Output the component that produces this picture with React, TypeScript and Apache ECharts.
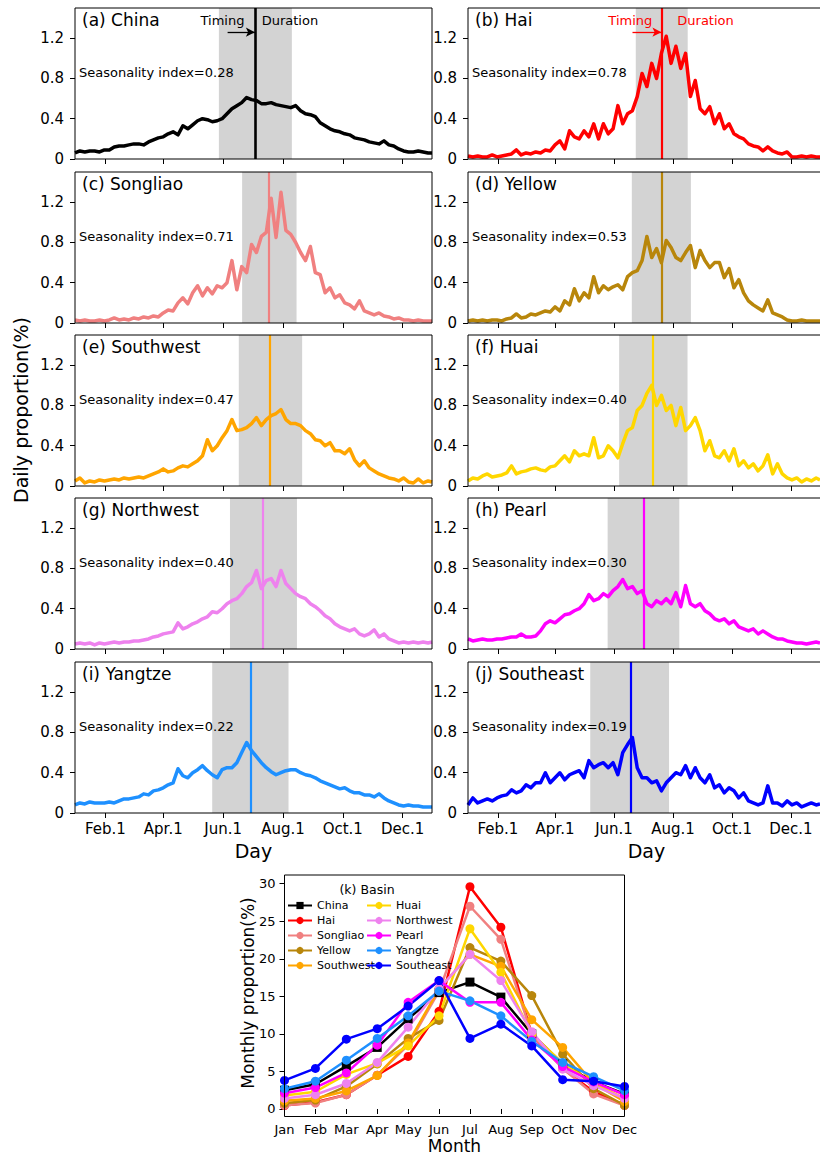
import React, { useEffect, useRef } from "react";
import * as echarts from "echarts";

const FONT = "DejaVu Sans";

const BASINS = ["China", "Hai", "Songliao", "Yellow", "Southwest", "Huai", "Northwest", "Pearl", "Yangtze", "Southeast"];
const PANEL_TAGS = ["(a)", "(b)", "(c)", "(d)", "(e)", "(f)", "(g)", "(h)", "(i)", "(j)"];
const COLORS = ["#000000", "#ff0000", "#f08080", "#b8860b", "#ffa500", "#ffd700", "#ee82ee", "#ff00ff", "#1e90ff", "#0000ff"];
const SEASONALITY = [0.28, 0.78, 0.71, 0.53, 0.47, 0.4, 0.4, 0.3, 0.22, 0.19];
const TIMING_DAY = [184.4, 201, 199, 201, 200, 192.4, 192.6, 182.7, 180.3, 168.8];
const DURATION_START = [147.7, 174.5, 171.4, 170.4, 168, 157.3, 159, 145.4, 140.9, 127.4];
const DURATION_END = [222.1, 228.2, 226.9, 231.5, 232.6, 228, 227.3, 219.5, 218.7, 208.9];
const ARROW_START = [156.6, 171.1];
const ARROW_Y = 1.26;

// daily proportion (%), sampled every 5 days from Jan 1 (last point = Dec 31)
const DAY_STEP = 5;
const DAILY_CHINA = [0.06, 0.08, 0.07, 0.08, 0.08, 0.07, 0.09, 0.09, 0.12, 0.13, 0.13, 0.14, 0.15, 0.15, 0.14, 0.17, 0.19, 0.21, 0.22, 0.25, 0.27, 0.24, 0.33, 0.3, 0.34, 0.38, 0.4, 0.39, 0.37, 0.38, 0.4, 0.45, 0.5, 0.53, 0.56, 0.61, 0.59, 0.58, 0.55, 0.55, 0.56, 0.54, 0.53, 0.52, 0.51, 0.53, 0.48, 0.45, 0.44, 0.42, 0.36, 0.33, 0.3, 0.28, 0.27, 0.25, 0.24, 0.21, 0.2, 0.19, 0.17, 0.16, 0.15, 0.18, 0.14, 0.13, 0.1, 0.08, 0.07, 0.07, 0.08, 0.07, 0.06, 0.06];
const DAILY_HAI = [0.03, 0.02, 0.03, 0.02, 0.02, 0.04, 0.02, 0.03, 0.04, 0.05, 0.09, 0.04, 0.06, 0.05, 0.07, 0.06, 0.09, 0.08, 0.14, 0.18, 0.1, 0.28, 0.22, 0.2, 0.28, 0.22, 0.35, 0.2, 0.35, 0.25, 0.3, 0.53, 0.35, 0.45, 0.48, 0.62, 0.85, 0.72, 0.95, 0.8, 1.05, 1.22, 0.95, 1.12, 0.9, 1.05, 0.62, 0.78, 0.5, 0.45, 0.52, 0.35, 0.45, 0.3, 0.35, 0.25, 0.22, 0.2, 0.15, 0.13, 0.12, 0.08, 0.12, 0.08, 0.06, 0.05, 0.07, 0.02, 0.02, 0.03, 0.02, 0.03, 0.02, 0.02];
const DAILY_SONGLIAO = [0.03, 0.02, 0.03, 0.02, 0.02, 0.03, 0.02, 0.03, 0.05, 0.03, 0.04, 0.03, 0.05, 0.04, 0.06, 0.05, 0.07, 0.06, 0.1, 0.13, 0.12, 0.2, 0.25, 0.19, 0.3, 0.37, 0.27, 0.35, 0.29, 0.37, 0.35, 0.4, 0.62, 0.33, 0.56, 0.5, 0.78, 0.7, 0.86, 0.9, 1.24, 0.85, 1.3, 0.92, 0.88, 0.8, 0.7, 0.62, 0.76, 0.5, 0.48, 0.3, 0.35, 0.25, 0.28, 0.2, 0.18, 0.14, 0.22, 0.12, 0.1, 0.08, 0.1, 0.07, 0.06, 0.04, 0.05, 0.03, 0.03, 0.02, 0.03, 0.02, 0.02, 0.02];
const DAILY_YELLOW = [0.02, 0.03, 0.02, 0.03, 0.02, 0.03, 0.03, 0.02, 0.04, 0.05, 0.09, 0.05, 0.06, 0.09, 0.08, 0.1, 0.12, 0.11, 0.16, 0.12, 0.22, 0.18, 0.34, 0.22, 0.3, 0.25, 0.46, 0.3, 0.37, 0.33, 0.36, 0.38, 0.33, 0.46, 0.5, 0.52, 0.62, 0.86, 0.65, 0.74, 0.6, 0.82, 0.75, 0.65, 0.62, 0.7, 0.77, 0.55, 0.72, 0.62, 0.55, 0.6, 0.6, 0.45, 0.54, 0.35, 0.43, 0.3, 0.22, 0.18, 0.15, 0.12, 0.23, 0.1, 0.08, 0.06, 0.03, 0.02, 0.02, 0.03, 0.02, 0.02, 0.02, 0.02];
const DAILY_SOUTHWEST = [0.05, 0.08, 0.03, 0.05, 0.04, 0.06, 0.05, 0.06, 0.07, 0.06, 0.08, 0.07, 0.08, 0.09, 0.08, 0.1, 0.12, 0.14, 0.17, 0.14, 0.15, 0.18, 0.2, 0.19, 0.22, 0.25, 0.3, 0.46, 0.35, 0.4, 0.48, 0.55, 0.66, 0.55, 0.56, 0.58, 0.62, 0.68, 0.6, 0.66, 0.7, 0.72, 0.76, 0.66, 0.62, 0.62, 0.6, 0.55, 0.52, 0.46, 0.45, 0.4, 0.43, 0.35, 0.35, 0.32, 0.37, 0.26, 0.2, 0.25, 0.18, 0.15, 0.12, 0.1, 0.08, 0.07, 0.05, 0.08, 0.04, 0.03, 0.07, 0.03, 0.05, 0.04];
const DAILY_HUAI = [0.05, 0.08, 0.07, 0.1, 0.12, 0.09, 0.1, 0.11, 0.13, 0.2, 0.12, 0.14, 0.15, 0.17, 0.18, 0.16, 0.15, 0.19, 0.2, 0.25, 0.3, 0.24, 0.35, 0.3, 0.32, 0.3, 0.48, 0.28, 0.3, 0.4, 0.35, 0.28, 0.42, 0.55, 0.58, 0.75, 0.8, 0.92, 1.0, 0.8, 0.9, 0.75, 0.8, 0.6, 0.78, 0.55, 0.6, 0.68, 0.55, 0.35, 0.45, 0.3, 0.28, 0.35, 0.25, 0.37, 0.2, 0.25, 0.18, 0.22, 0.15, 0.2, 0.31, 0.12, 0.22, 0.12, 0.08, 0.06, 0.08, 0.04, 0.07, 0.05, 0.08, 0.06];
const DAILY_NORTHWEST = [0.05, 0.06, 0.05, 0.06, 0.04, 0.06, 0.05, 0.06, 0.07, 0.06, 0.07, 0.07, 0.08, 0.08, 0.09, 0.1, 0.12, 0.13, 0.15, 0.16, 0.17, 0.26, 0.2, 0.22, 0.25, 0.27, 0.3, 0.32, 0.37, 0.36, 0.4, 0.45, 0.48, 0.5, 0.55, 0.62, 0.66, 0.78, 0.6, 0.68, 0.7, 0.62, 0.78, 0.65, 0.6, 0.55, 0.52, 0.5, 0.45, 0.42, 0.38, 0.33, 0.3, 0.25, 0.22, 0.2, 0.18, 0.2, 0.15, 0.13, 0.15, 0.19, 0.12, 0.15, 0.1, 0.08, 0.06, 0.07, 0.06, 0.07, 0.06, 0.07, 0.06, 0.07];
const DAILY_PEARL = [0.1, 0.08, 0.09, 0.1, 0.09, 0.09, 0.1, 0.1, 0.11, 0.12, 0.12, 0.15, 0.12, 0.12, 0.13, 0.18, 0.25, 0.28, 0.26, 0.3, 0.34, 0.35, 0.38, 0.4, 0.45, 0.54, 0.48, 0.5, 0.55, 0.52, 0.58, 0.62, 0.69, 0.6, 0.62, 0.55, 0.58, 0.45, 0.42, 0.48, 0.45, 0.5, 0.45, 0.56, 0.42, 0.63, 0.45, 0.42, 0.45, 0.38, 0.35, 0.3, 0.28, 0.3, 0.25, 0.28, 0.22, 0.2, 0.18, 0.2, 0.15, 0.18, 0.15, 0.12, 0.1, 0.1, 0.08, 0.07, 0.06, 0.06, 0.05, 0.06, 0.07, 0.06];
const DAILY_YANGTZE = [0.08, 0.1, 0.09, 0.11, 0.1, 0.1, 0.1, 0.11, 0.1, 0.12, 0.14, 0.14, 0.15, 0.16, 0.19, 0.18, 0.22, 0.23, 0.25, 0.28, 0.3, 0.44, 0.37, 0.35, 0.4, 0.43, 0.47, 0.42, 0.38, 0.35, 0.43, 0.45, 0.45, 0.5, 0.6, 0.7, 0.62, 0.56, 0.5, 0.45, 0.41, 0.38, 0.4, 0.42, 0.43, 0.43, 0.4, 0.38, 0.37, 0.35, 0.32, 0.3, 0.28, 0.26, 0.24, 0.25, 0.22, 0.2, 0.2, 0.18, 0.18, 0.16, 0.19, 0.15, 0.12, 0.1, 0.08, 0.07, 0.08, 0.07, 0.07, 0.06, 0.06, 0.06];
const DAILY_SOUTHEAST = [0.08, 0.15, 0.1, 0.12, 0.14, 0.12, 0.15, 0.17, 0.18, 0.23, 0.2, 0.22, 0.28, 0.25, 0.3, 0.3, 0.4, 0.3, 0.35, 0.4, 0.33, 0.38, 0.4, 0.42, 0.35, 0.52, 0.45, 0.48, 0.5, 0.45, 0.5, 0.38, 0.6, 0.68, 0.75, 0.45, 0.35, 0.35, 0.3, 0.32, 0.22, 0.3, 0.35, 0.4, 0.38, 0.47, 0.35, 0.45, 0.35, 0.3, 0.38, 0.25, 0.28, 0.2, 0.25, 0.22, 0.15, 0.2, 0.12, 0.1, 0.08, 0.1, 0.27, 0.1, 0.1, 0.07, 0.12, 0.08, 0.1, 0.06, 0.08, 0.1, 0.08, 0.09];
const DAILY = [DAILY_CHINA, DAILY_HAI, DAILY_SONGLIAO, DAILY_YELLOW, DAILY_SOUTHWEST, DAILY_HUAI, DAILY_NORTHWEST, DAILY_PEARL, DAILY_YANGTZE, DAILY_SOUTHEAST];

const DAY_TICKS = [32, 91, 152, 213, 274, 335];
const DAY_TICK_LABELS = ["Feb.1", "Apr.1", "Jun.1", "Aug.1", "Oct.1", "Dec.1"];
const DAILY_Y_TICKS = [0, 0.4, 0.8, 1.2];

// monthly proportion (%)
const MONTHS = ["Jan", "Feb", "Mar", "Apr", "May", "Jun", "Jul", "Aug", "Sep", "Oct", "Nov", "Dec"];
const MONTHLY_CHINA = [2.5, 3.3, 5.7, 8.2, 12.0, 15.5, 16.9, 14.9, 10.0, 6.0, 3.6, 2.0];
const MONTHLY_HAI = [0.45, 0.9, 1.9, 4.5, 7.0, 13.0, 29.6, 24.2, 9.9, 5.4, 2.3, 0.5];
const MONTHLY_SONGLIAO = [0.5, 0.8, 1.9, 4.5, 8.5, 15.7, 27.0, 22.6, 9.9, 5.4, 2.0, 0.45];
const MONTHLY_YELLOW = [0.75, 1.2, 3.0, 6.0, 9.4, 11.8, 21.5, 19.7, 15.1, 7.3, 2.7, 0.5];
const MONTHLY_SOUTHWEST = [1.1, 1.4, 2.4, 4.45, 8.8, 16.0, 20.6, 19.0, 11.9, 8.2, 3.4, 1.0];
const MONTHLY_HUAI = [1.8, 2.3, 4.6, 6.1, 8.4, 12.4, 24.0, 18.2, 10.0, 6.1, 3.4, 1.4];
const MONTHLY_NORTHWEST = [1.4, 1.9, 3.4, 6.2, 10.9, 16.0, 20.6, 17.1, 10.3, 5.3, 3.1, 1.4];
const MONTHLY_PEARL = [2.1, 2.85, 4.8, 8.5, 14.2, 17.1, 14.2, 14.2, 9.2, 5.65, 3.6, 1.9];
const MONTHLY_YANGTZE = [2.7, 3.7, 6.5, 9.4, 12.4, 15.7, 14.4, 12.4, 9.0, 6.2, 4.3, 2.45];
const MONTHLY_SOUTHEAST = [3.8, 5.4, 9.3, 10.7, 13.7, 17.1, 9.4, 11.3, 8.4, 3.9, 3.7, 3.0];
const MONTHLY = [MONTHLY_CHINA, MONTHLY_HAI, MONTHLY_SONGLIAO, MONTHLY_YELLOW, MONTHLY_SOUTHWEST, MONTHLY_HUAI, MONTHLY_NORTHWEST, MONTHLY_PEARL, MONTHLY_YANGTZE, MONTHLY_SOUTHEAST];
const MONTHLY_Y_TICKS = [0, 5, 10, 15, 20, 25, 30];

// layout
const ROW_TOPS = [8, 172, 335, 498, 662];
const COL_LEFTS = [75, 468];
const PANEL_W = 357;
const PANEL_H = 151;
const K_LEFT = 284.5;
const K_TOP = 875;
const K_W = 340;
const K_H = 241.5;

function buildOption() {
  const grid: any[] = [];
  const xAxis: any[] = [];
  const yAxis: any[] = [];
  const series: any[] = [];
  const graphic: any[] = [];

  DAILY.forEach((vals, i) => {
    const row = Math.floor(i / 2);
    const col = i % 2;
    const left = COL_LEFTS[col];
    const top = ROW_TOPS[row];
    const color = COLORS[i];
    grid.push({ left, top, width: PANEL_W, height: PANEL_H, show: false });
    xAxis.push({
      type: "value",
      gridIndex: i,
      min: 1,
      max: 365,
      axisLine: { show: false },
      splitLine: { show: false },
      axisTick: { show: true, customValues: DAY_TICKS, length: 5, lineStyle: { color: "#000", width: 1 } },
      axisLabel: {
        show: row === 4,
        customValues: DAY_TICKS,
        formatter: (v: number) => {
          const k = DAY_TICKS.indexOf(Math.round(v));
          return k >= 0 ? DAY_TICK_LABELS[k] : "";
        },
        fontSize: 15,
        color: "#000",
        fontFamily: FONT,
        margin: 8,
      },
    });
    yAxis.push({
      type: "value",
      gridIndex: i,
      min: 0,
      max: 1.5,
      axisLine: { show: false },
      splitLine: { show: false },
      axisTick: { show: true, customValues: DAILY_Y_TICKS, length: 5, lineStyle: { color: "#000", width: 1 } },
      axisLabel: {
        customValues: DAILY_Y_TICKS,
        formatter: (v: number) => (v === 0 ? "0" : v.toFixed(1)),
        fontSize: 15,
        color: "#000",
        fontFamily: FONT,
        margin: 11,
      },
    });
    const data = vals.map((v, k) => [Math.min(1 + k * DAY_STEP, 365), v]);
    series.push({
      type: "line",
      name: "band-" + BASINS[i],
      xAxisIndex: i,
      yAxisIndex: i,
      data: [],
      z: 1,
      silent: true,
      markArea: {
        silent: true,
        itemStyle: { color: "#d3d3d3", opacity: 1 },
        data: [[{ xAxis: DURATION_START[i] }, { xAxis: DURATION_END[i] }]],
      },
    });
    const markLineData: any[] = [
      { xAxis: TIMING_DAY[i], lineStyle: { color, width: i === 0 ? 2.6 : 2.2, type: "solid" } },
    ];
    if (i < 2) {
      markLineData.push([
        { coord: [ARROW_START[i], ARROW_Y], symbol: "none", lineStyle: { color, width: 1.3, type: "solid" } },
        { coord: [TIMING_DAY[i], ARROW_Y], symbol: "arrow", symbolSize: [7, 9] },
      ]);
    }
    series.push({
      type: "line",
      name: "daily-" + BASINS[i],
      xAxisIndex: i,
      yAxisIndex: i,
      data,
      z: 3,
      silent: true,
      symbol: "none",
      showSymbol: false,
      lineStyle: { color, width: 3.5, join: "round" },
      itemStyle: { color },
      markLine: {
        silent: true,
        symbol: "none",
        label: { show: false },
        data: markLineData,
      },
    });

    graphic.push({
      type: "rect",
      z: 100,
      shape: { x: left, y: top, width: PANEL_W, height: PANEL_H },
      style: { fill: "none", stroke: "#000", lineWidth: 1 },
      silent: true,
    });
    graphic.push({
      type: "text",
      z: 101,
      x: left + 7,
      y: top + 12,
      style: { text: `${PANEL_TAGS[i]} ${BASINS[i]}`, fontSize: 17, fontFamily: FONT, fill: "#000", align: "left", verticalAlign: "middle" },
    });
    graphic.push({
      type: "text",
      z: 101,
      x: left + 4,
      y: top + 64,
      style: { text: `Seasonality index=${SEASONALITY[i].toFixed(2)}`, fontSize: 13, fontFamily: FONT, fill: "#000", align: "left", verticalAlign: "middle" },
    });
  });

  // Timing / Duration annotations
  const annot = [
    { tx: 222.5, dx: 261.7, color: "#000" },
    { tx: 630.3, dx: 677.3, color: "#ff0000" },
  ];
  annot.forEach((a) => {
    graphic.push({
      type: "text",
      z: 101,
      x: a.tx,
      y: 20.7,
      style: { text: "Timing", fontSize: 13, fontFamily: FONT, fill: a.color, align: "center", verticalAlign: "middle" },
    });
    graphic.push({
      type: "text",
      z: 101,
      x: a.dx,
      y: 20.7,
      style: { text: "Duration", fontSize: 13, fontFamily: FONT, fill: a.color, align: "left", verticalAlign: "middle" },
    });
  });

  // axis titles
  graphic.push({
    type: "text",
    x: 21,
    y: 410,
    rotation: Math.PI / 2,
    style: { text: "Daily proportion(%)", fontSize: 19, fontFamily: FONT, fill: "#000", align: "center", verticalAlign: "middle" },
  });
  [253.5, 646.5].forEach((cx) => {
    graphic.push({
      type: "text",
      x: cx,
      y: 851,
      style: { text: "Day", fontSize: 19, fontFamily: FONT, fill: "#000", align: "center", verticalAlign: "middle" },
    });
  });

  // (k) monthly panel
  const kIdx = 10;
  grid.push({ left: K_LEFT, top: K_TOP, width: K_W, height: K_H, show: false });
  xAxis.push({
    type: "category",
    gridIndex: kIdx,
    data: MONTHS,
    boundaryGap: false,
    axisLine: { show: false },
    splitLine: { show: false },
    axisTick: { show: true, length: 5, interval: 0, lineStyle: { color: "#000", width: 1 } },
    axisLabel: { interval: 0, fontSize: 13, color: "#000", fontFamily: FONT, margin: 6 },
  });
  yAxis.push({
    type: "value",
    gridIndex: kIdx,
    min: -1.0,
    max: 31.16,
    axisLine: { show: false },
    splitLine: { show: false },
    axisTick: { show: true, customValues: MONTHLY_Y_TICKS, length: 5, lineStyle: { color: "#000", width: 1 } },
    axisLabel: {
      customValues: MONTHLY_Y_TICKS,
      fontSize: 13,
      color: "#000",
      fontFamily: FONT,
      margin: 9,
    },
  });
  MONTHLY.forEach((vals, k) => {
    series.push({
      type: "line",
      name: BASINS[k],
      xAxisIndex: kIdx,
      yAxisIndex: kIdx,
      data: vals,
      symbol: k === 0 ? "rect" : "circle",
      symbolSize: 9,
      showSymbol: true,
      silent: true,
      lineStyle: { color: COLORS[k], width: 2.5 },
      itemStyle: { color: COLORS[k] },
      z: 2,
    });
  });
  graphic.push({
    type: "rect",
    z: 100,
    shape: { x: K_LEFT, y: K_TOP, width: K_W, height: K_H },
    style: { fill: "none", stroke: "#000", lineWidth: 1 },
    silent: true,
  });
  graphic.push({
    type: "text",
    z: 101,
    x: 367,
    y: 889,
    style: { text: "(k) Basin", fontSize: 12.5, fontFamily: FONT, fill: "#000", align: "center", verticalAlign: "middle" },
  });
  graphic.push({
    type: "text",
    x: 247.5,
    y: 993,
    rotation: Math.PI / 2,
    style: { text: "Monthly proportion(%)", fontSize: 17, fontFamily: FONT, fill: "#000", align: "center", verticalAlign: "middle" },
  });
  graphic.push({
    type: "text",
    x: 454.5,
    y: 1146,
    style: { text: "Month", fontSize: 17, fontFamily: FONT, fill: "#000", align: "center", verticalAlign: "middle" },
  });

  const legendBase = {
    orient: "vertical",
    top: 895,
    padding: 5,
    itemWidth: 24,
    itemHeight: 9,
    itemGap: 4,
    selectedMode: false,
    textStyle: { fontSize: 11, fontFamily: FONT, color: "#000" },
  };

  return {
    animation: false,
    backgroundColor: "#fff",
    textStyle: { fontFamily: FONT },
    grid,
    xAxis,
    yAxis,
    series,
    graphic,
    legend: [
      { ...legendBase, left: 282, data: BASINS.slice(0, 5) },
      { ...legendBase, left: 361, data: BASINS.slice(5) },
    ],
  };
}

export default function App() {
  const ref = useRef<HTMLDivElement>(null);
  useEffect(() => {
    if (!ref.current) return;
    const chart = echarts.init(ref.current, undefined, { renderer: "svg" });
    chart.setOption(buildOption() as any);
    return () => chart.dispose();
  }, []);
  return (
    <div
      ref={ref}
      style={{ position: "absolute", left: 0, top: 0, width: 820, height: 1155, background: "#fff" }}
    />
  );
}
